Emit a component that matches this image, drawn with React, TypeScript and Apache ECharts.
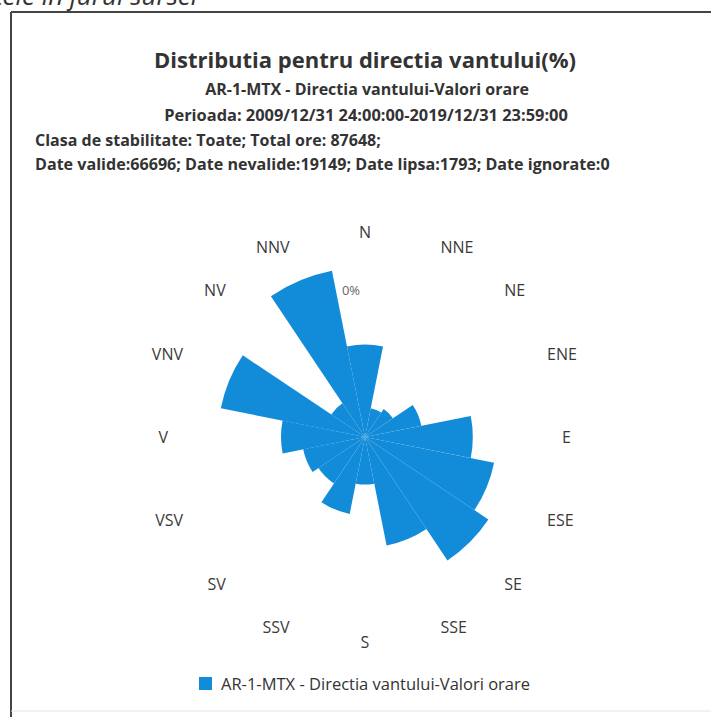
import React, { useEffect, useRef } from "react";
import * as echarts from "echarts";

const directions = ["N", "NNE", "NE", "ENE", "E", "ESE", "SE", "SSE", "S", "SSV", "SV", "VSV", "V", "VNV", "NV", "NNV"];
const frequencies = [6.6, 2.1, 2.4, 4.1, 7.7, 9.4, 10.6, 7.9, 3.4, 5.6, 4.0, 4.5, 6.0, 10.5, 2.9, 12.1];
const seriesName = "AR-1-MTX - Directia vantului-Valori orare";
const titleText = "Distributia pentru directia vantului(%)";
const subtitleLines = [
  "AR-1-MTX - Directia vantului-Valori orare",
  "Perioada: 2009/12/31 24:00:00-2019/12/31 23:59:00",
];
const infoLines = [
  "Clasa de stabilitate: Toate; Total ore: 87648;",
  "Date valide:66696; Date nevalide:19149; Date lipsa:1793; Date ignorate:0",
];
const radiusLabel = "0%";
const pageHeaderFragment = "tele in jurul sursei";

const FONT = "'Open Sans', 'Noto Sans', sans-serif";

export default function App() {
  const ref = useRef<HTMLDivElement>(null);
  useEffect(() => {
    if (!ref.current) return;
    const chart = echarts.init(ref.current, undefined, { renderer: "svg" });
    chart.setOption({
      animation: false,
      backgroundColor: "#ffffff",
      title: [
        {
          text: titleText,
          left: 360,
          top: 43,
          textAlign: "center",
          textStyle: { fontFamily: FONT, fontSize: 22, fontWeight: "bold", color: "#333333" },
        },
        {
          text: subtitleLines[0],
          left: 362,
          top: 76,
          textAlign: "center",
          textStyle: { fontFamily: FONT, fontSize: 16, fontWeight: "bold", color: "#333333" },
        },
        {
          text: subtitleLines[1],
          left: 361,
          top: 101,
          textAlign: "center",
          textStyle: { fontFamily: FONT, fontSize: 16.4, fontWeight: "bold", color: "#333333" },
        },
        {
          text: infoLines[0],
          left: 30,
          top: 127,
          textStyle: { fontFamily: FONT, fontSize: 16, fontWeight: "bold", color: "#333333" },
        },
        {
          text: infoLines[1],
          left: 30,
          top: 151,
          textStyle: { fontFamily: FONT, fontSize: 16.1, fontWeight: "bold", color: "#333333" },
        },
      ],
      legend: {
        data: [seriesName],
        left: 194,
        top: 670,
        icon: "rect",
        itemWidth: 13,
        itemHeight: 13,
        itemGap: 6,
        textStyle: { fontFamily: FONT, fontSize: 16.5, color: "#333333", padding: [0, 0, 0, 4] },
      },
      polar: { center: [365, 437], radius: 182 },
      angleAxis: {
        type: "category",
        data: directions,
        startAngle: 101.25,
        boundaryGap: true,
        axisLine: { show: false },
        axisTick: { show: false },
        splitLine: { show: false },
        axisLabel: { fontFamily: FONT, fontSize: 16, color: "#3a3a3a", margin: 15 },
      },
      radiusAxis: {
        min: 0,
        max: 13,
        axisLine: { show: false },
        axisTick: { show: false },
        axisLabel: { show: false },
        splitLine: { show: false },
      },
      series: [
        {
          name: seriesName,
          type: "bar",
          coordinateSystem: "polar",
          data: frequencies,
          barCategoryGap: "0%",
          itemStyle: { color: "#128cd9" },
        },
      ],
      graphic: [
        {
          type: "line",
          shape: { x1: 11, y1: 12, x2: 711, y2: 12 },
          style: { stroke: "#444444", lineWidth: 2 },
        },
        {
          type: "line",
          shape: { x1: 11, y1: 12, x2: 11, y2: 717 },
          style: { stroke: "#444444", lineWidth: 2 },
        },
        {
          type: "line",
          shape: { x1: 11, y1: 711, x2: 711, y2: 711 },
          style: { stroke: "#e4e4e4", lineWidth: 1 },
        },
        {
          type: "text",
          x: -6,
          y: 8,
          style: {
            text: pageHeaderFragment,
            fontFamily: FONT,
            fontSize: 26,
            fontStyle: "italic",
            fill: "#333333",
            textVerticalAlign: "bottom",
          },
        },
        {
          type: "text",
          x: 351,
          y: 290,
          style: {
            text: radiusLabel,
            fontFamily: FONT,
            fontSize: 13,
            fill: "#666666",
            textAlign: "center",
            textVerticalAlign: "middle",
          },
        },
      ],
    });
    return () => chart.dispose();
  }, []);
  return (
    <div
      ref={ref}
      style={{ position: "absolute", left: 0, top: 0, width: 711, height: 717 }}
    />
  );
}
